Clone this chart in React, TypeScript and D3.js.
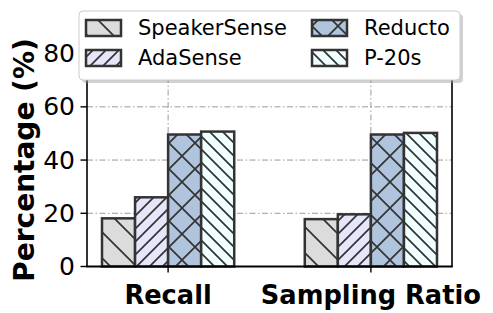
import React from "react";
import * as d3 from "d3";

const categories = ["Recall", "Sampling Ratio"];
const methods = ["SpeakerSense", "AdaSense", "Reducto", "P-20s"];
const recallValues = [18.1, 26, 49.6, 50.7];
const samplingValues = [17.8, 19.6, 49.6, 50.2];
const yTicks = [0, 20, 40, 60, 80];

const fills = ["#dcdcdc", "#e6e6fa", "#b0c4de", "#f0ffff"];
const hatches = ["\\", "//", "x", "\\\\"];

const W = 493;
const H = 313;
const FONT = "DejaVu Sans, sans-serif";
const EDGE = "#333333";

// build the hatch path for a tile of size p
const hatchPath = (kind: string, p: number) => {
    const back = `M0,0L${p},${p}M${-1},${p - 1}L1,${p + 1}M${p - 1},-1L${p + 1},1`;
    const fwd = `M0,${p}L${p},0M-1,1L1,-1M${p - 1},${p + 1}L${p + 1},${p - 1}`;
    if (kind === "x") return back + fwd;
    if (kind.startsWith("/")) return fwd;
    return back;
};

const App: React.FC = () => {
    const series = [recallValues, samplingValues];

    const x = d3.scaleLinear().domain([-0.4, 1.4]).range([87, 452]);
    const y = d3.scaleLinear().domain([0, 90]).range([266.5, 27]);
    const barW = 0.163;
    const pxW = x(barW) - x(0);

    const left = x.range()[0];
    const right = x.range()[1];
    const bottom = y(0);
    const top = y(90);

    const tileSize = (h: string) => (h.length >= 2 ? 13 : 26);

    return (
        <svg
            width={W}
            height={H}
            style={{ position: "absolute", left: 0, top: 0, background: "#fff" }}
            fontFamily={FONT}
        >
            <defs>
                {hatches.map((h, i) => {
                    const p = tileSize(h);
                    return (
                        <pattern
                            key={i}
                            id={`hatch${i}`}
                            patternUnits="userSpaceOnUse"
                            width={p}
                            height={p}
                        >
                            <rect width={p} height={p} fill={fills[i]} />
                            <path d={hatchPath(h, p)} stroke={EDGE} strokeWidth={1.7} fill="none" />
                        </pattern>
                    );
                })}
            </defs>
            <rect width={W} height={H} fill="#fff" />

            {/* grid, behind bars */}
            <g stroke="#9a9a9a" strokeWidth={1} strokeDasharray="6,2.5,1.5,2.5">
                {yTicks.filter((t) => t > 0).map((t) => (
                    <line key={t} x1={left} x2={right} y1={y(t)} y2={y(t)} />
                ))}
                {categories.map((c, i) => (
                    <line key={c} x1={x(i)} x2={x(i)} y1={top} y2={bottom} />
                ))}
            </g>

            {/* bars */}
            {series.map((vals, gi) =>
                vals.map((v, mi) => {
                    const cx = x(gi + (mi - 1.5) * barW);
                    return (
                        <rect
                            key={`${gi}-${mi}`}
                            x={cx - pxW / 2}
                            y={y(v)}
                            width={pxW}
                            height={bottom - y(v)}
                            fill={`url(#hatch${mi})`}
                            stroke={EDGE}
                            strokeWidth={2.5}
                        />
                    );
                })
            )}

            {/* spines */}
            <g stroke="#000" fill="none">
                <line x1={left} x2={left} y1={top} y2={bottom} strokeWidth={1.6} />
                <line x1={right} x2={right} y1={top} y2={bottom} strokeWidth={1.6} />
                <line x1={left} x2={right} y1={top} y2={top} strokeWidth={1.6} />
                <line x1={left - 0.8} x2={right + 0.8} y1={bottom} y2={bottom} strokeWidth={2} />
            </g>

            {/* y axis */}
            {yTicks.map((t) => (
                <g key={t}>
                    <line x1={left - 6.5} x2={left} y1={y(t)} y2={y(t)} stroke="#000" strokeWidth={1.4} />
                    <text
                        x={left - 12}
                        y={y(t)}
                        textAnchor="end"
                        dominantBaseline="central"
                        fontSize={25}
                        fill="#000"
                    >
                        {t}
                    </text>
                </g>
            ))}
            <text
                transform={`translate(33.5,160) rotate(-90)`}
                textAnchor="middle"
                fontSize={28}
                fontWeight="bold"
                fill="#000"
            >
                Percentage (%)
            </text>

            {/* x axis */}
            {categories.map((c, i) => (
                <g key={c}>
                    <line x1={x(i)} x2={x(i)} y1={bottom} y2={bottom + 6} stroke="#000" strokeWidth={1.4} />
                    <text x={x(i)} y={304} textAnchor="middle" fontSize={25.7} fontWeight="bold" fill="#000">
                        {c}
                    </text>
                </g>
            ))}

            {/* legend */}
            <rect x={82} y={14} width={381} height={69} rx={4} fill="#999" opacity={0.45} />
            <rect x={79} y={11} width={381} height={69} rx={4} fill="#fff" stroke="#cccccc" strokeWidth={1} />
            {methods.map((m, i) => {
                const col = Math.floor(i / 2);
                const row = i % 2;
                const px = col === 0 ? 86 : 312;
                const py = row === 0 ? 20 : 50;
                return (
                    <g key={m}>
                        <rect
                            x={px}
                            y={py}
                            width={35}
                            height={16}
                            fill={`url(#hatch${i})`}
                            stroke={EDGE}
                            strokeWidth={2.5}
                        />
                        <text x={px + 52} y={py + 15} fontSize={21} fill="#000">
                            {m}
                        </text>
                    </g>
                );
            })}
        </svg>
    );
};

export default App;
